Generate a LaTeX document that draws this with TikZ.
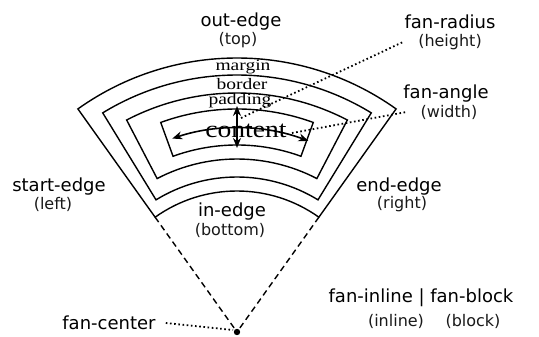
\documentclass[tikz,border=0pt]{standalone}
\usepackage{fontspec}
\setmainfont{DejaVu Sans}
\newfontfamily\seriff{Liberation Serif}
\usetikzlibrary{arrows.meta}
\begin{document}
\begin{tikzpicture}[x=1pt,y=1pt,
  fanshape/.style={line width=1.4pt, line join=miter},
  lab/.style={font=\fontsize{18}{20}\selectfont, inner sep=0pt},
  sublab/.style={font=\fontsize{16}{18}\selectfont, inner sep=0pt, text=black!90},
  boxlab/.style={font=\seriff\fontsize{16}{18}\selectfont, inner sep=0pt, xscale=1.22},
  dotl/.style={line width=1.8pt, dash pattern=on 1.6pt off 2.6pt},
  dashl/.style={line width=1.4pt, dash pattern=on 6pt off 4pt},
  arr/.style={line width=1.6pt, {Stealth[length=10pt,width=8pt]}-{Stealth[length=10pt,width=8pt]}}]
\useasboundingbox (0,0) rectangle (539,337);
\coordinate (C) at (237,5);
\begin{scope}[shift={(C)}]
  % margin box
  \draw[fanshape] (125.5:274) arc[start angle=125.5,end angle=54.5,radius=274]
    -- (54.5:141) arc[start angle=54.5,end angle=125.5,radius=141] -- cycle;
  % border box
  \draw[fanshape] (121.5:257) arc[start angle=121.5,end angle=58.5,radius=257]
    -- (58.5:155) arc[start angle=58.5,end angle=121.5,radius=155] -- cycle;
  % padding box
  \draw[fanshape] (117.5:239) arc[start angle=117.5,end angle=62.5,radius=239]
    -- (62.5:173) arc[start angle=62.5,end angle=117.5,radius=173] -- cycle;
  % content box
  \draw[fanshape] (110:223) arc[start angle=110,end angle=70,radius=223]
    -- (70:187) arc[start angle=70,end angle=110,radius=187] -- cycle;
  \coordinate (L) at (125.5:141);
  \coordinate (R) at (54.5:141);
  \coordinate (ha) at (108.5:204);
  \coordinate (hb) at (69.5:204);
  \coordinate (va) at (90:184);
  \coordinate (vb) at (90:226);
\end{scope}

% box labels
\node[boxlab] (margin) at (243,270) {margin};
\node[boxlab] (border) at (242,253) {border};
\node[boxlab] (padding) at (240,236) {padding};
\node[boxlab, font=\seriff\fontsize{24}{26}\selectfont, xscale=1.15/1.22] (content) at (246,206) {content};

% arrows
\draw[arr] (ha) arc[start angle=108.5,end angle=69.5,radius=204];
\draw[arr] (va) -- (vb);

% dashed radii
\draw[dashl] (L) -- (C);
\draw[dashl] (R) -- (C);
\fill (C) circle (3.2);

% outer labels
\node[lab] (out) at (241,315) {out-edge};
\node[sublab] (top) at (238,297) {(top)};
\node[lab] (start) at (59,150) {start-edge};
\node[sublab] (left) at (53,133) {(left)};
\node[lab] (end) at (399,150) {end-edge};
\node[sublab] (right) at (402,133) {(right)};
\node[lab] (in) at (232,125) {in-edge};
\node[sublab] (bottom) at (230,107) {(bottom)};
\node[lab] (radius) at (450,315) {fan-radius};
\node[sublab] (height) at (450,295) {(height)};
\node[lab] (angle) at (446,243) {fan-angle};
\node[sublab] (width) at (449,225) {(width)};
\node[lab] (center) at (109,14) {fan-center};
\node[lab] (inlineblock) at (421,39) {fan-inline | fan-block};
\node[sublab] (inl) at (396,16) {(inline)};
\node[sublab] (blk) at (473,16) {(block)};

% dotted leaders
\coordinate (r0) at (241,219);
\coordinate (a0) at (292,204);
\draw[dotl] (r0) -- ([xshift=-15pt]height.west);
\draw[dotl] (a0) -- ([xshift=-14pt]width.west);
\draw[dotl] ([xshift=10pt]center.east) -- ([xshift=-4pt,yshift=2pt]C);
\end{tikzpicture}
\end{document}
